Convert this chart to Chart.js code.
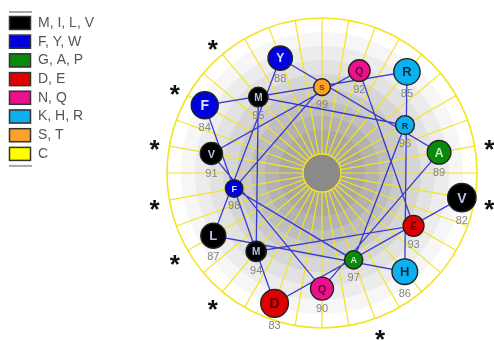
<!DOCTYPE html>
<html>
<head>
<meta charset="utf-8">
<script src="https://cdn.jsdelivr.net/npm/chart.js@4.4.1/dist/chart.umd.min.js"></script>
<style>
  html, body { margin: 0; padding: 0; background: #ffffff; }
  #wrap { width: 494px; height: 341px; position: relative; }
</style>
</head>
<body>
<div id="wrap"><canvas id="wheel" width="494" height="341"></canvas></div>
<script>
// Helical wheel of residues 82-99
const residues = ['V','D','F','R','H','L','Y','A','Q','V','Q','E','M','M','R','A','F','S'];
const residueNumbers = [82,83,84,85,86,87,88,89,90,91,92,93,94,95,96,97,98,99];

// Residue classes shown in the key
const groupNames   = ['M, I, L, V','F, Y, W','G, A, P','D, E','N, Q','K, H, R','S, T','C'];
const groupMembers = ['MILV','FYW','GAP','DE','NQ','KHR','ST','C'];
const groupColors  = ['#000000','#0000dc','#0a8a0a','#e00000','#ec108c','#0cb0ee','#fca22c','#ffff00'];
const groupInk     = ['#b4c4e4','#dce4ff','#c8f0c0','#5a0000','#6a0030','#00304c','#7a3c00','#5a5a00'];

// Residues flagged with an asterisk
const starredLetters = ['A','V','L','I','M','F'];

// Wheel geometry: 100 degrees per residue, spiralling inward
const START_ANGLE = -10, STEP_ANGLE = -100;
const START_RADIUS = 142, RADIUS_STEP = -3.3;
const WHEEL_RADIUS = 155, HUB_RADIUS = 19, STAR_RADIUS = 170;

function groupOf(letter) {
  return groupMembers.findIndex(g => g.includes(letter));
}
function polar(r, deg) {
  const a = deg * Math.PI / 180;
  return { x: r * Math.cos(a), y: r * Math.sin(a) };
}
const wheelPoints = residues.map((res, i) =>
  polar(START_RADIUS + RADIUS_STEP * i, START_ANGLE + STEP_ANGLE * i));

function scaleInfo(chart) {
  const xs = chart.scales.x, ys = chart.scales.y;
  const cx = xs.getPixelForValue(0), cy = ys.getPixelForValue(0);
  const k = xs.getPixelForValue(1) - cx;
  return { xs, ys, cx, cy, k };
}

// Shaded disc in stepped bands, spokes, hub and rim
const wheelBackground = {
  id: 'wheelBackground',
  beforeDatasetsDraw(chart) {
    const { ctx } = chart;
    const { cx, cy, k } = scaleInfo(chart);
    const R = WHEEL_RADIUS * k;
    ctx.save();
    const bands = [
      [155, '#ffffff'], [141, '#f6f6f6'], [127, '#ececec'], [113, '#e2e2e2'],
      [99, '#d6d6d6'], [85, '#cacaca'], [71, '#bebebe'], [57, '#b2b2b2'], [43, '#a8a8a8']
    ];
    bands.forEach(([r, c]) => {
      ctx.fillStyle = c;
      ctx.beginPath(); ctx.arc(cx, cy, r * k, 0, Math.PI * 2); ctx.fill();
    });

    ctx.strokeStyle = '#f4e420';
    ctx.lineWidth = 1.2;
    for (let d = 0; d < 360; d += 10) {
      const a = d * Math.PI / 180;
      ctx.beginPath();
      ctx.moveTo(cx + HUB_RADIUS * k * Math.cos(a), cy - HUB_RADIUS * k * Math.sin(a));
      ctx.lineTo(cx + R * Math.cos(a), cy - R * Math.sin(a));
      ctx.stroke();
    }
    ctx.lineWidth = 1.6;
    ctx.beginPath(); ctx.arc(cx, cy, R, 0, Math.PI * 2); ctx.stroke();

    ctx.fillStyle = '#8a8a8a';
    ctx.lineWidth = 1.4;
    ctx.beginPath(); ctx.arc(cx, cy, HUB_RADIUS * k, 0, Math.PI * 2); ctx.fill(); ctx.stroke();
    ctx.restore();
  }
};

// Residue letters, residue numbers, asterisks and the class key
const wheelLabels = {
  id: 'wheelLabels',
  afterDatasetsDraw(chart) {
    const { ctx } = chart;
    const { xs, ys } = scaleInfo(chart);
    const meta = chart.getDatasetMeta(0);
    ctx.save();
    ctx.textAlign = 'center';
    meta.data.forEach((pt, i) => {
      const r = pt.options.radius;
      const g = groupOf(residues[i]);
      ctx.fillStyle = groupInk[g];
      ctx.font = 'bold ' + Math.round(r * 1.0) + 'px "Liberation Sans", Arial, sans-serif';
      ctx.textBaseline = 'middle';
      ctx.fillText(residues[i], pt.x, pt.y + 1);
      ctx.fillStyle = '#828282';
      ctx.font = '11px "Liberation Sans", Arial, sans-serif';
      ctx.fillText(String(residueNumbers[i]), pt.x, pt.y + r + 9);
    });

    // asterisks outside the rim
    ctx.fillStyle = '#111111';
    ctx.font = 'bold 26px "Liberation Sans", Arial, sans-serif';
    ctx.textBaseline = 'alphabetic';
    residues.forEach((res, i) => {
      if (!starredLetters.includes(res)) return;
      const p = polar(STAR_RADIUS, START_ANGLE + STEP_ANGLE * i);
      const px = xs.getPixelForValue(p.x), py = ys.getPixelForValue(p.y);
      ctx.fillText('*', px, py + 15);
    });

    // class key
    const left = 9, top = 16, rowH = 18.7, boxW = 22, boxH = 14;
    ctx.fillStyle = '#a8a8a8';
    ctx.fillRect(left, top - 5, boxW + 1, 2);
    ctx.fillRect(left, top + rowH * (groupNames.length - 1) + boxH + 4, boxW + 1, 2);
    ctx.textAlign = 'left';
    ctx.textBaseline = 'middle';
    groupNames.forEach((name, i) => {
      const y = top + rowH * i;
      ctx.fillStyle = groupColors[i];
      ctx.fillRect(left, y, boxW, boxH);
      ctx.strokeStyle = '#333333';
      ctx.lineWidth = 1.5;
      ctx.strokeRect(left + 0.5, y + 0.5, boxW - 1, boxH - 1);
      ctx.fillStyle = '#555555';
      ctx.font = '14px "Liberation Sans", Arial, sans-serif';
      ctx.fillText(name, 38, y + boxH / 2);
    });
    ctx.restore();
  }
};

new Chart(document.getElementById('wheel'), {
  type: 'scatter',
  data: {
    datasets: [
      {
        label: 'residues',
        data: wheelPoints,
        order: 0,
        pointRadius: ctx => 14.2 - 0.34 * ctx.dataIndex,
        pointHoverRadius: ctx => 14.2 - 0.34 * ctx.dataIndex,
        pointBackgroundColor: ctx => groupColors[groupOf(residues[ctx.dataIndex])],
        pointBorderColor: '#222222',
        pointBorderWidth: 1.4,
        showLine: false
      },
      {
        label: 'backbone',
        data: wheelPoints,
        order: 1,
        showLine: true,
        borderColor: 'rgba(30,30,210,0.85)',
        borderWidth: 1.3,
        pointRadius: 0,
        pointHoverRadius: 0,
        tension: 0
      }
    ]
  },
  options: {
    responsive: false,
    animation: false,
    devicePixelRatio: 1,
    layout: { autoPadding: false, padding: { left: 147, right: 0, top: 0, bottom: 0 } },
    scales: {
      x: { type: 'linear', min: -175, max: 172, display: false },
      y: { type: 'linear', min: -168, max: 173, display: false }
    },
    plugins: {
      legend: { display: false },
      tooltip: { enabled: false }
    }
  },
  plugins: [wheelBackground, wheelLabels]
});
</script>
</body>
</html>
